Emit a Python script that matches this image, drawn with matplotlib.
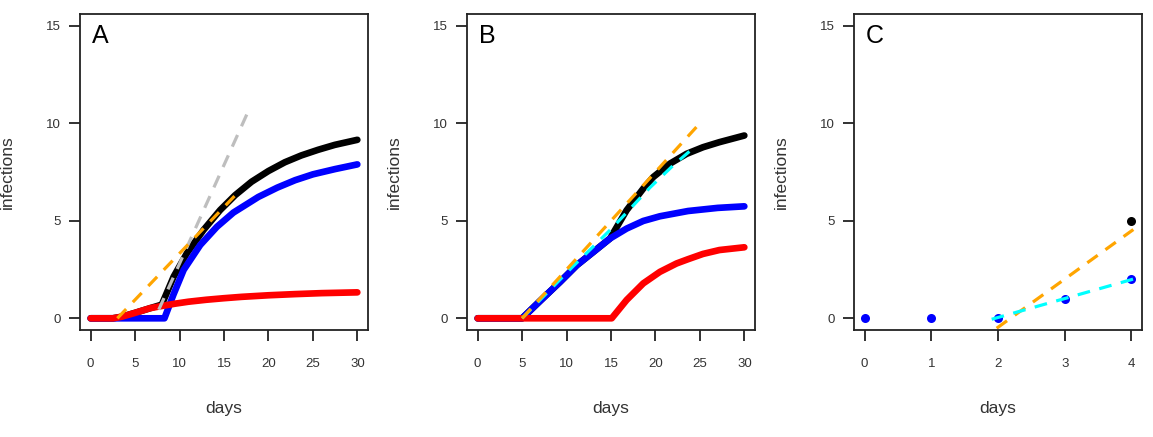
import matplotlib
matplotlib.use("Agg")
import matplotlib.pyplot as plt

plt.rcParams['font.family'] = ['Liberation Sans', 'DejaVu Sans']

# ---- panel A ----
a_red_days = [0, 2.5, 3.5, 5, 6.7, 8, 9.5, 11, 13, 15, 17, 20, 23, 26, 30]
a_red = [0, 0, 0.08, 0.28, 0.52, 0.63, 0.75, 0.85, 0.95, 1.03, 1.1, 1.18, 1.24, 1.29, 1.33]
a_blue_days = [0, 8.3, 9.3, 10.46, 12.33, 14.2, 16.06, 18.86, 21, 23, 25, 27.5, 30]
a_blue = [0, 0, 1.2, 2.48, 3.76, 4.69, 5.42, 6.22, 6.7, 7.08, 7.38, 7.65, 7.89]
a_black_days = [0, 2.5, 3.5, 5, 6.7, 8.0, 9.34, 10.83, 12.7, 14.57, 16.25, 18.1, 20, 21.85,
                23.7, 25.6, 27.46, 30]
a_black = [0, 0, 0.08, 0.28, 0.52, 0.7, 2.14, 3.34, 4.53, 5.55, 6.31, 7.0, 7.55, 8.0,
           8.35, 8.64, 8.89, 9.15]
a_gray_days = [7.66, 17.93]
a_gray = [0.44, 10.82]
a_orange_days = [3.0, 16.8]
a_orange = [0.0, 6.56]

# ---- panel B ----
b_red_days = [0, 15.08, 16.76, 18.63, 20.5, 22.37, 23.67, 25.35, 27.2, 30]
b_red = [0, 0, 0.94, 1.79, 2.38, 2.81, 3.03, 3.3, 3.5, 3.64]
b_blue_days = [0, 5, 7, 9.28, 11.15, 13.01, 14.89, 16.76, 18.63, 20.5, 23.67, 27, 30]
b_blue = [0, 0, 0.88, 1.87, 2.72, 3.4, 4.09, 4.6, 4.99, 5.23, 5.5, 5.66, 5.74]
b_black_days = [0, 5, 7, 9.28, 11.15, 13.01, 14.89, 16.76, 18.63, 19.75, 21.6, 23.5, 25.35,
                27.2, 30]
b_black = [0, 0, 0.88, 1.87, 2.72, 3.4, 4.09, 5.54, 6.65, 7.24, 7.92, 8.43, 8.77, 9.03, 9.37]
b_cyan_days = [5.0, 10.59, 15.07, 19.38, 22.0, 24.6]
b_cyan = [0.0, 2.6, 4.6, 6.7, 7.84, 8.86]
b_orange_days = [5.0, 25.0]
b_orange = [0.0, 10.0]

# ---- panel C ----
c_days = [0, 1, 2, 3, 4]
c_blue = [0, 0, 0, 1, 2]
c_black_days = [4]
c_black = [5]
c_orange_days = [1.98, 4.03]
c_orange = [-0.51, 4.55]
c_cyan_days = [1.905, 4.03]
c_cyan = [-0.05, 2.01]

RED, BLUE, ORANGE, GRAY, CYAN = '#FF0000', '#0000FF', '#FFA500', '#BEBEBE', '#00FFFF'
TXT = '#333333'
SOLID = dict(lw=4.8, solid_capstyle='round', solid_joinstyle='round')
DASH = dict(lw=2.3, dashes=(4, 3))

fig = plt.figure(figsize=(11.53, 4.37), dpi=100)
lefts = [80, 467, 854]
axes = [fig.add_axes([l / 1153, 107 / 437, 288 / 1153, 316 / 437]) for l in lefts]

ax = axes[0]
ax.plot(a_black_days, a_black, color='black', **SOLID)
ax.plot(a_blue_days, a_blue, color=BLUE, **SOLID)
ax.plot(a_red_days, a_red, color=RED, **SOLID)
ax.plot(a_gray_days, a_gray, color=GRAY, **DASH)
ax.plot(a_orange_days, a_orange, color=ORANGE, **DASH)

ax = axes[1]
ax.plot(b_black_days, b_black, color='black', **SOLID)
ax.plot(b_blue_days, b_blue, color=BLUE, **SOLID)
ax.plot(b_red_days, b_red, color=RED, **SOLID)
ax.plot(b_cyan_days, b_cyan, color=CYAN, **DASH)
ax.plot(b_orange_days, b_orange, color=ORANGE, **DASH)

ax = axes[2]
ax.plot(c_days, c_blue, 'o', color=BLUE, ms=6.5, mew=0)
ax.plot(c_black_days, c_black, 'o', color='black', ms=6.5, mew=0)
ax.plot(c_orange_days, c_orange, color=ORANGE, **DASH)
ax.plot(c_cyan_days, c_cyan, color=CYAN, **DASH)

for ax, letter in zip(axes, ['A', 'B', 'C']):
    if letter == 'C':
        ax.set_xlim(-0.16, 4.16)
        ax.set_xticks([0, 1, 2, 3, 4])
    else:
        ax.set_xlim(-1.2, 31.2)
        ax.set_xticks([0, 5, 10, 15, 20, 25, 30])
    ax.set_ylim(-0.6, 15.6)
    ax.set_yticks([0, 5, 10, 15])
    for s in ax.spines.values():
        s.set_linewidth(1.3)
        s.set_color('#222222')
    ax.tick_params(axis='both', length=8, width=1.3, color='#222222',
                   labelsize=9.5, labelcolor=TXT)
    ax.tick_params(axis='x', pad=12)
    ax.tick_params(axis='y', pad=6)
    ax.set_xlabel('days', fontsize=12.5, color=TXT, va='baseline')
    ax.xaxis.set_label_coords(0.5, -0.264)
    ax.set_ylabel('infections', fontsize=12.5, color=TXT, va='baseline')
    ax.yaxis.set_label_coords(-0.235, 0.5)
    ax.text(0.04, 0.909, letter, transform=ax.transAxes, fontsize=18,
            ha='left', va='baseline', color='black')

fig.savefig('out.png', dpi=100)
